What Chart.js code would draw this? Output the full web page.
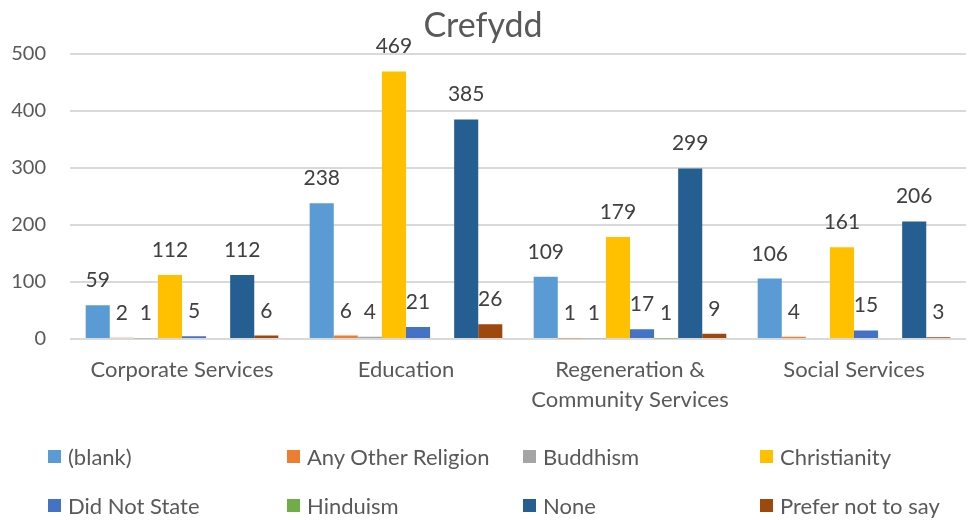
<!DOCTYPE html>
<html>
<head>
<meta charset="utf-8">
<script src="https://cdn.jsdelivr.net/npm/chart.js@4"></script>
<style>
  body { margin: 0; background: #fff; }
  #wrap { position: relative; width: 968px; height: 520px; }
  #legend { position: absolute; left: 0; top: 0; width: 968px; height: 520px; pointer-events: none;
            font-family: Lato, sans-serif; font-size: 22px; color: #595959; }
  .item { position: absolute; display: flex; align-items: center; white-space: nowrap; }
  .box { width: 13px; height: 13px; margin-right: 7px; }
</style>
</head>
<body>
<div id="wrap">
  <canvas id="chart" width="968" height="520"></canvas>
  <div id="legend"></div>
</div>
<script>
const categories = ['Corporate Services', 'Education', ['Regeneration &', 'Community Services'], 'Social Services'];
const seriesNames = ['(blank)', 'Any Other Religion', 'Buddhism', 'Christianity', 'Did Not State', 'Hinduism', 'None', 'Prefer not to say'];
const seriesColors = ['#5B9BD5', '#ED7D31', '#A5A5A5', '#FFC000', '#4472C4', '#70AD47', '#255E91', '#9E480E'];

const blank = [59, 238, 109, 106];
const anyOther = [2, 6, 1, 4];
const buddhism = [1, 4, 1, null];
const christianity = [112, 469, 179, 161];
const didNotState = [5, 21, 17, 15];
const hinduism = [null, null, 1, null];
const none = [112, 385, 299, 206];
const preferNot = [6, 26, 9, 3];

const yTicks = [0, 100, 200, 300, 400, 500];

const seriesValues = [blank, anyOther, buddhism, christianity, didNotState, hinduism, none, preferNot];

const textColor = '#595959';

// values above bars
const barLabels = {
    id: 'barLabels',
    afterDatasetsDraw(chart) {
        const ctx = chart.ctx;
        ctx.save();
        ctx.font = '21px Lato, sans-serif';
        ctx.fillStyle = '#404040';
        ctx.textAlign = 'center';
        ctx.textBaseline = 'alphabetic';
        chart.data.datasets.forEach((ds, i) => {
            const meta = chart.getDatasetMeta(i);
            meta.data.forEach((bar, j) => {
                const v = ds.data[j];
                if (v === null || v === undefined) return;
                ctx.fillText(v, bar.x, bar.y - 18);
            });
        });
        ctx.restore();
    }
};

const chart = new Chart(document.getElementById('chart'), {
    type: 'bar',
    data: {
        labels: categories,
        datasets: seriesNames.map((name, i) => ({
            label: name,
            data: seriesValues[i],
            backgroundColor: seriesColors[i],
            borderWidth: 0
        }))
    },
    options: {
        responsive: false,
        animation: false,
        layout: { padding: { left: 0, right: 2, top: 0, bottom: 0 } },
        datasets: { bar: { categoryPercentage: 0.86, barPercentage: 1.0 } },
        plugins: {
            legend: { display: false },
            tooltip: { enabled: false },
            title: {
                display: true,
                text: 'Crefydd',
                color: textColor,
                font: { family: 'Lato, sans-serif', size: 34, weight: 'normal' },
                padding: { top: 6, bottom: 7 }
            }
        },
        scales: {
            x: {
                grid: { display: false },
                border: { display: false },
                ticks: {
                    color: textColor,
                    font: { family: 'Lato, sans-serif', size: 22, lineHeight: 1.36 },
                    padding: 8,
                    maxRotation: 0,
                    autoSkip: false
                },
                afterFit: (scale) => { scale.height = 181; }
            },
            y: {
                min: 0,
                max: 500,
                afterBuildTicks: (scale) => { scale.ticks = yTicks.map(v => ({ value: v })); },
                grid: { color: '#D9D9D9', lineWidth: 2, drawTicks: false },
                border: { display: false },
                ticks: {
                    color: textColor,
                    font: { family: 'Lato, sans-serif', size: 20 },
                    padding: 24
                },
                afterFit: (scale) => { scale.width = 70; }
            }
        }
    },
    plugins: [barLabels]
});

// legend in a 4 x 2 grid
const legendDiv = document.getElementById('legend');
const colX = [48, 287, 523, 760];
const rowY = [456, 505];
seriesNames.forEach((name, i) => {
    const item = document.createElement('div');
    item.className = 'item';
    item.style.left = colX[i % 4] + 'px';
    item.style.top = (rowY[Math.floor(i / 4)] - 14) + 'px';
    item.style.height = '28px';
    const box = document.createElement('span');
    box.className = 'box';
    box.style.background = seriesColors[i];
    const txt = document.createElement('span');
    txt.textContent = name;
    item.appendChild(box);
    item.appendChild(txt);
    legendDiv.appendChild(item);
});
</script>
</body>
</html>
